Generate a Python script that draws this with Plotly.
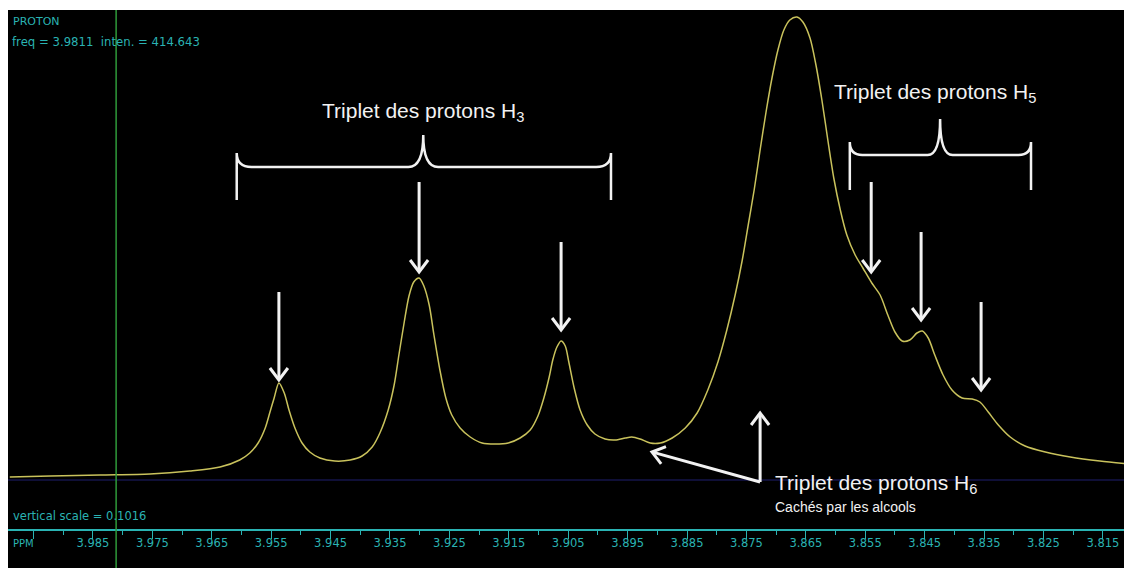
import math
import plotly.graph_objects as go

# ---------------- data ----------------
ppm = [3.9990, 3.9922, 3.9838, 3.9754, 3.9687, 3.9636, 3.9603, 3.9586, 3.9572, 3.9560,
       3.9552, 3.9545, 3.9537, 3.9528, 3.9520, 3.9510, 3.9498, 3.9485, 3.9468, 3.9443,
       3.9417, 3.9397, 3.9380, 3.9367, 3.9353, 3.9343, 3.9335, 3.9326, 3.9318, 3.9310,
       3.9301, 3.9293, 3.9284, 3.9276, 3.9266, 3.9256, 3.9246, 3.9232, 3.9215, 3.9195,
       3.9173, 3.9151, 3.9131, 3.9114, 3.9101, 3.9091, 3.9082, 3.9076, 3.9069, 3.9062,
       3.9055, 3.9049, 3.9040, 3.9030, 3.9018, 3.9005, 3.8988, 3.8971, 3.8954, 3.8943,
       3.8929, 3.8912, 3.8895, 3.8875, 3.8853, 3.8833, 3.8815, 3.8798, 3.8783, 3.8769,
       3.8757, 3.8747, 3.8737, 3.8727, 3.8717, 3.8707, 3.8697, 3.8687, 3.8677, 3.8665,
       3.8655, 3.8643, 3.8633, 3.8623, 3.8613, 3.8603, 3.8592, 3.8581, 3.8567, 3.8554,
       3.8539, 3.8525, 3.8512, 3.8500, 3.8488, 3.8475, 3.8463, 3.8454, 3.8444, 3.8433,
       3.8419, 3.8404, 3.8387, 3.8370, 3.8357, 3.8343, 3.8326, 3.8306, 3.8281, 3.8247,
       3.8205, 3.8155, 3.8104]
intensity = [3, 4, 5, 6, 9, 13, 20, 27, 37, 52,
             68, 82, 97, 87, 70, 52, 37, 28, 22, 19,
             20, 24, 33, 47, 70, 95, 125, 158, 184, 198,
             202, 194, 175, 145, 110, 82, 65, 52, 43, 37,
             36, 37, 42, 50, 64, 82, 103, 120, 133, 139,
             134, 118, 92, 70, 55, 46, 41, 40, 42, 43,
             41, 37, 37, 42, 52, 67, 90, 118, 150, 185,
             220, 255, 290, 330, 368, 402, 430, 450, 460, 463,
             458, 442, 415, 380, 340, 302, 270, 245, 225, 212,
             197, 185, 165, 148, 139, 140, 147, 149, 142, 125,
             105, 90, 82, 81, 78, 68, 55, 43, 34, 28,
             23, 19, 16]

tick_vals = [3.995, 3.985, 3.975, 3.965, 3.955, 3.945, 3.935, 3.925, 3.915, 3.905,
             3.895, 3.885, 3.875, 3.865, 3.855, 3.845, 3.835, 3.825, 3.815]
tick_text = ["", "3.985", "3.975", "3.965", "3.955", "3.945", "3.935", "3.925", "3.915",
             "3.905", "3.895", "3.885", "3.875", "3.865", "3.855", "3.845", "3.835",
             "3.825", "3.815"]
minor_vals = [3.990, 3.980, 3.970, 3.960, 3.950, 3.940, 3.930, 3.920, 3.910, 3.900,
              3.890, 3.880, 3.870, 3.860, 3.850, 3.840, 3.830, 3.820, 3.810]

cursor_ppm = 3.9811

# ---------------- styles ----------------
CYAN = "#2ab3b3"
WHITE = "#f2f2f2"
W, H = 1124, 560          # page body margin of 8px gives the white border
ML, MT, MB, MR = 0, 2, 39, 0
PW, PH = W - ML - MR, H - MT - MB
X_RANGE = [3.9993, 3.8101]
Y_RANGE = [-49, 470]
KX = PW / (X_RANGE[0] - X_RANGE[1])      # px per ppm (axis reversed)
KY = PH / (Y_RANGE[1] - Y_RANGE[0])      # px per intensity unit

fig = go.Figure()
fig.add_trace(go.Scatter(
    x=ppm, y=intensity, mode="lines",
    line=dict(color="#c9c25c", width=1.5, shape="spline", smoothing=0.8),
    hoverinfo="skip", showlegend=False))

shapes = []
# thin white strip at the very top
shapes.append(dict(type="rect", xref="paper", yref="paper", x0=0, x1=1,
                   y0=1, y1=1 + MT / PH + 0.01, fillcolor="white", line=dict(width=0)))
# dark blue baseline
shapes.append(dict(type="line", xref="paper", yref="y", x0=0, x1=1, y0=0, y1=0,
                   line=dict(color="#15154a", width=1.5), layer="below"))
# green cursor
shapes.append(dict(type="line", xref="x", yref="paper", x0=cursor_ppm, x1=cursor_ppm,
                   y0=-MB / PH - 0.01, y1=1, line=dict(color="#2f9a3a", width=1.5)))


def brace(x0, x1, xc, ymid, yend, ytip, rx, ry):
    return (f"M{x0},{yend} L{x0},{ymid + ry} Q{x0},{ymid} {x0 - rx},{ymid} "
            f"L{xc + rx},{ymid} Q{xc},{ymid} {xc},{ytip} "
            f"Q{xc},{ymid} {xc - rx},{ymid} L{x1 + rx},{ymid} "
            f"Q{x1},{ymid} {x1},{ymid + ry} L{x1},{yend}")


shapes.append(dict(type="path", xref="x", yref="y",
                   path=brace(3.9608, 3.8978, 3.9294, 313, 280, 345, 0.0025, 14),
                   line=dict(color=WHITE, width=2.5)))
shapes.append(dict(type="path", xref="x", yref="y",
                   path=brace(3.8576, 3.8271, 3.8424, 325, 290, 361, 0.0021, 13),
                   line=dict(color=WHITE, width=2.5)))


def arrow_shapes(tip, tail, head_len=12, head_half=9, width=3):
    """White arrow drawn as a shaft and a chevron head (data coordinates)."""
    (tx, ty), (sx, sy) = tip, tail
    vx, vy = -(tx - sx) * KX, (ty - sy) * KY
    n = math.hypot(vx, vy)
    dx, dy = vx / n, vy / n
    px, py = -dy, dx

    def to_data(ox, oy):
        return tx - ox / KX, ty + oy / KY

    a = to_data(-head_len * dx + head_half * px, -head_len * dy + head_half * py)
    b = to_data(-head_len * dx - head_half * px, -head_len * dy - head_half * py)
    e = to_data(-1.5 * dx, -1.5 * dy)
    return [dict(type="line", xref="x", yref="y", x0=sx, y0=sy, x1=e[0], y1=e[1],
                 line=dict(color=WHITE, width=width)),
            dict(type="path", xref="x", yref="y",
                 path=f"M{a[0]},{a[1]} L{tx},{ty} L{b[0]},{b[1]}",
                 line=dict(color=WHITE, width=width))]


# arrows (tip, tail)
arrow_tip = [(3.9537, 100), (3.9301, 208), (3.9062, 150), (3.8540, 208),
             (3.8456, 160), (3.8355, 90), (3.8727, 67), (3.8909, 28)]
arrow_tail = [(3.9537, 188), (3.9301, 298), (3.9062, 238), (3.8540, 298),
              (3.8456, 248), (3.8355, 178), (3.8727, -2), (3.8727, -2)]
for tp, tl in zip(arrow_tip, arrow_tail):
    shapes.extend(arrow_shapes(tp, tl))

annotations = []
big_font = dict(family="Liberation Sans, Arial, sans-serif", size=21, color=WHITE)
annotations.append(dict(x=3.9294, y=368, xref="x", yref="y", showarrow=False,
                        text="Triplet des protons H<sub>3</sub>", font=big_font,
                        xanchor="center", yanchor="middle"))
annotations.append(dict(x=3.8433, y=387, xref="x", yref="y", showarrow=False,
                        text="Triplet des protons H<sub>5</sub>", font=big_font,
                        xanchor="center", yanchor="middle"))
annotations.append(dict(x=3.8705, y=-4, xref="x", yref="y", showarrow=False,
                        text="Triplet des protons H<sub>6</sub>", font=big_font,
                        xanchor="left", yanchor="middle"))
annotations.append(dict(x=3.8705, y=-27, xref="x", yref="y", showarrow=False,
                        text="Cachés par les alcools",
                        font=dict(family="Liberation Sans, Arial, sans-serif", size=14,
                                  color=WHITE),
                        xanchor="left", yanchor="middle"))

small = dict(family="DejaVu Sans, Verdana, sans-serif", size=11.5, color=CYAN)


def px_paper(px, py):
    # px, py are positions on the 1132x568 page; the figure starts at (8, 8)
    return (px - 8 - ML) / PW, 1 - (py - 8 - MT) / PH


for txt, px, py, sz in [("PROTON", 11, 22, 11), ("freq = 3.9811  inten. = 414.643", 10, 42, 11.7),
                        ("vertical scale = 0.1016", 11, 516, 11.5), ("PPM", 11, 543, 10)]:
    xp, yp = px_paper(px, py)
    annotations.append(dict(x=xp, y=yp, xref="paper", yref="paper", showarrow=False,
                            text=txt, xanchor="left", yanchor="middle",
                            font=dict(small, size=sz)))

fig.update_layout(
    width=W, height=H,
    margin=dict(l=ML, r=MR, t=MT, b=MB, pad=0),
    paper_bgcolor="black", plot_bgcolor="black",
    shapes=shapes, annotations=annotations, showlegend=False,
    xaxis=dict(range=X_RANGE, showgrid=False, zeroline=False,
               showline=True, linecolor=CYAN, linewidth=1.5,
               tickmode="array", tickvals=tick_vals, ticktext=tick_text,
               ticks="outside", ticklen=8, tickwidth=1.2, tickcolor=CYAN,
               ticklabelstandoff=-6,
               tickfont=dict(family="DejaVu Sans, Verdana, sans-serif", size=11.5, color=CYAN),
               minor=dict(tickmode="array", tickvals=minor_vals, ticks="outside",
                          ticklen=4, tickcolor=CYAN, tickwidth=1.2, showgrid=False)),
    yaxis=dict(range=Y_RANGE, visible=False, showgrid=False, zeroline=False),
)

fig.write_html("out.html")
